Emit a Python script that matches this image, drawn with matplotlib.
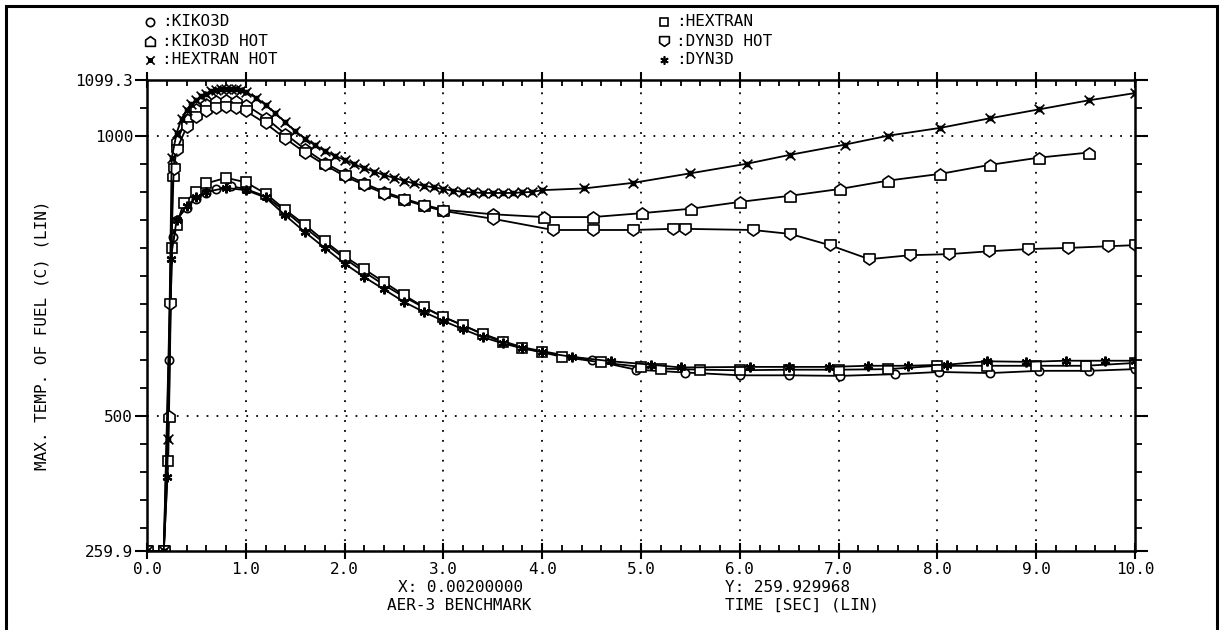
import matplotlib
matplotlib.use("Agg")
import matplotlib.pyplot as plt
from matplotlib.path import Path
from matplotlib.lines import Line2D
from matplotlib.patches import Rectangle
from matplotlib.ticker import MultipleLocator, FixedLocator

plt.rcParams['font.family'] = ['DejaVu Sans Mono']

# Data (time [s], max fuel temperature [C])
t_kiko = [0.0, 0.17, 0.22, 0.26, 0.3, 0.4, 0.5, 0.6, 0.7, 0.85, 1.0, 1.2, 1.4, 1.6, 1.8, 2.0, 2.2,
          2.4, 2.6, 2.8, 3.0, 3.2, 3.4, 3.6, 3.8, 4.0, 4.5, 4.95, 5.45, 6.0, 6.5, 7.01, 7.57, 8.02,
          8.53, 9.03, 9.53, 10.0]
v_kiko = [259.9, 259.9, 600, 820, 850, 872, 888, 898, 905, 910, 905, 892, 865, 836, 808, 781, 757,
          734, 713, 694, 677, 662, 647, 634, 623, 616, 600, 583, 578, 573, 573, 572, 575, 579,
          577, 581, 581, 584]

t_hex = [0.0, 0.17, 0.215, 0.25, 0.3, 0.37, 0.5, 0.6, 0.8, 1.0, 1.2, 1.4, 1.6, 1.8, 2.0, 2.2, 2.4,
         2.6, 2.8, 3.0, 3.2, 3.4, 3.6, 3.8, 4.0, 4.2, 4.6, 5.0, 5.2, 5.6, 6.0, 6.5, 7.0, 7.5, 8.0,
         8.5, 9.0, 9.5, 10.0]
v_hex = [259.9, 259.9, 420, 800, 840, 880, 900, 915, 925, 917, 897, 868, 841, 812, 785, 762, 739,
         716, 695, 677, 662, 646, 632, 622, 614, 606, 596, 588, 585, 583, 582, 583, 583, 584, 590,
         590, 590, 590, 595]

t_dyn = [0.0, 0.17, 0.205, 0.24, 0.3, 0.4, 0.5, 0.6, 0.8, 1.0, 1.2, 1.4, 1.6, 1.8, 2.0, 2.2, 2.4,
         2.6, 2.8, 3.0, 3.2, 3.4, 3.6, 3.8, 4.0, 4.3, 4.7, 5.1, 5.4, 6.1, 6.5, 6.9, 7.3, 7.7, 8.1,
         8.5, 8.9, 9.3, 9.7, 10.0]
v_dyn = [259.9, 259.9, 391, 780, 850, 875, 890, 900, 907, 903, 890, 858, 828, 800, 772, 748, 726,
         704, 686, 670, 655, 641, 630, 621, 614, 606, 598, 592, 587, 588, 588, 588, 590, 590, 592,
         598, 597, 599, 599, 599]

t_kiko_hot = [0.0, 0.17, 0.22, 0.26, 0.3, 0.4, 0.5, 0.6, 0.7, 0.8, 0.9, 1.0, 1.2, 1.4, 1.6, 1.8,
              2.0, 2.2, 2.4, 2.6, 2.8, 3.0, 3.5, 4.02, 4.51, 5.01, 5.51, 6.0, 6.51, 7.01, 7.5,
              8.03, 8.53, 9.03, 9.53]
v_kiko_hot = [259.9, 259.9, 500, 930, 990, 1030, 1048, 1057, 1062, 1063, 1061, 1055, 1032, 1003,
              976, 952, 932, 915, 900, 888, 877, 868, 860, 855, 855, 862, 870, 882, 893, 905, 920,
              932, 948, 961, 970]

t_dyn_hot = [0.0, 0.17, 0.23, 0.27, 0.3, 0.4, 0.5, 0.6, 0.7, 0.8, 0.9, 1.0, 1.2, 1.4, 1.6, 1.8,
             2.0, 2.2, 2.4, 2.6, 2.8, 3.0, 3.5, 4.11, 4.51, 4.92, 5.32, 5.45, 6.13, 6.51, 6.91,
             7.31, 7.72, 8.12, 8.52, 8.92, 9.32, 9.73, 10.0]
v_dyn_hot = [259.9, 259.9, 700, 940, 975, 1015, 1034, 1044, 1050, 1052, 1050, 1044, 1022, 995,
             970, 948, 928, 912, 897, 886, 875, 866, 852, 832, 832, 832, 834, 834, 832, 825, 805,
             780, 787, 789, 794, 798, 800, 803, 805]

t_hex_hot = [0.0, 0.17, 0.21, 0.25, 0.3, 0.35, 0.4, 0.45, 0.5, 0.55, 0.6, 0.65, 0.7, 0.75, 0.8,
             0.85, 0.9, 0.95, 1.0, 1.1, 1.2, 1.3, 1.4, 1.5, 1.6, 1.7, 1.8, 1.9, 2.0, 2.1, 2.2, 2.3,
             2.4, 2.5, 2.6, 2.7, 2.8, 2.9, 3.0, 3.1, 3.2, 3.3, 3.4, 3.5, 3.6, 3.7, 3.8, 3.9, 4.0,
             4.42, 4.92, 5.5, 6.07, 6.51, 7.06, 7.5, 8.03, 8.53, 9.03, 9.53, 10.0]
v_hex_hot = [259.9, 259.9, 460, 960, 1005, 1030, 1045, 1056, 1064, 1070, 1075, 1079, 1081, 1083,
             1084, 1084, 1083, 1081, 1078, 1068, 1055, 1040, 1024, 1008, 995, 983, 973, 964, 957,
             949, 942, 936, 930, 925, 920, 915, 911, 908, 905, 902, 900, 899, 898, 898, 898, 898,
             899, 900, 903, 906, 916, 933, 950, 966, 984, 1000, 1014, 1031, 1047, 1063, 1076]

y_ticks = [259.9, 500, 1000, 1099.3]
y_labels = ['259.9', '500', '1000', '1099.3']
x_ticks = [0, 1, 2, 3, 4, 5, 6, 7, 8, 9, 10]

FS = 11.5

# custom markers
house = Path([(-1, -1), (1, -1), (1, 0.3), (0, 1), (-1, 0.3), (-1, -1)],
             [Path.MOVETO, Path.LINETO, Path.LINETO, Path.LINETO, Path.LINETO, Path.CLOSEPOLY])
shield = Path([(-1, 1), (1, 1), (1, -0.3), (0, -1), (-1, -0.3), (-1, 1)],
              [Path.MOVETO, Path.LINETO, Path.LINETO, Path.LINETO, Path.LINETO, Path.CLOSEPOLY])
xbox = Path([(-0.4, -0.4), (0.4, -0.4), (0.4, 0.4), (-0.4, 0.4), (-0.4, -0.4),
             (-1, -1), (1, 1), (-1, 1), (1, -1)],
            [Path.MOVETO, Path.LINETO, Path.LINETO, Path.LINETO, Path.CLOSEPOLY,
             Path.MOVETO, Path.LINETO, Path.MOVETO, Path.LINETO])

series = [
    (t_kiko, v_kiko, dict(marker='o', ms=6)),
    (t_hex, v_hex, dict(marker='s', ms=7)),
    (t_dyn, v_dyn, dict(marker=(6, 2, 0), ms=7, mew=1.6)),
    (t_kiko_hot, v_kiko_hot, dict(marker=house, ms=8)),
    (t_dyn_hot, v_dyn_hot, dict(marker=shield, ms=8)),
    (t_hex_hot, v_hex_hot, dict(marker=xbox, ms=7)),
]

fig = plt.figure(figsize=(12.24, 6.30), dpi=100)
ax = fig.add_axes([147 / 1224, 1 - 551 / 630, (1135 - 147) / 1224, (551 - 80) / 630])

for t, v, st in series:
    kw = dict(color='black', lw=1.3, mfc='white', mec='black', mew=1.2)
    kw.update(st)
    ax.plot(t, v, **kw)

ax.set_xlim(0, 10)
ax.set_ylim(259.9, 1099.3)

# dotted grid
for gx in x_ticks[1:-1]:
    ax.axvline(gx, color='black', lw=1.3, ls=(0, (1, 4.5)), zorder=0)
for gy in [500, 1000]:
    ax.axhline(gy, color='black', lw=1.3, ls=(0, (1, 4.5)), zorder=0)

ax.xaxis.set_major_locator(FixedLocator(x_ticks))
ax.set_xticklabels(['%.1f' % x for x in x_ticks])
ax.xaxis.set_minor_locator(MultipleLocator(0.2))
ax.set_yticks(y_ticks)
ax.set_yticklabels(y_labels)
ax.yaxis.set_minor_locator(FixedLocator(list(range(300, 1100, 50))))

ax.tick_params(axis='x', which='major', direction='inout', length=12, width=1.5,
               top=True, labelsize=FS, pad=2)
ax.tick_params(axis='x', which='minor', direction='in', length=4, width=1.3, top=True)
ax.tick_params(axis='y', which='major', direction='out', length=9, width=1.5,
               right=True, labelsize=FS, pad=1)
ax.tick_params(axis='y', which='minor', direction='out', length=5, width=1.3, right=True)
for s in ax.spines.values():
    s.set_linewidth(1.8)

fig.text(42 / 1224, 1 - 335 / 630, 'MAX. TEMP. OF FUEL (C) (LIN)', rotation=90,
         ha='center', va='center', fontsize=FS)
fig.text(398 / 1224, 1 - 588 / 630, 'X: 0.00200000', ha='left', va='center', fontsize=FS)
fig.text(387 / 1224, 1 - 605 / 630, 'AER-3 BENCHMARK', ha='left', va='center', fontsize=FS)
fig.text(725 / 1224, 1 - 588 / 630, 'Y: 259.929968', ha='left', va='center', fontsize=FS)
fig.text(725 / 1224, 1 - 605 / 630, 'TIME [SEC] (LIN)', ha='left', va='center', fontsize=FS)

# legend as text rows
legend_rows = [
    (150, 22, 'o', 6, ':KIKO3D'),
    (150, 41, house, 7, ':KIKO3D HOT'),
    (150, 60, xbox, 6, ':HEXTRAN HOT'),
    (664, 22, 's', 6, ':HEXTRAN'),
    (664, 41, shield, 7, ':DYN3D HOT'),
    (664, 60, (6, 2, 0), 6, ':DYN3D'),
]
for px, py, mk, ms, label in legend_rows:
    fig.add_artist(Line2D([px / 1224], [1 - py / 630], marker=mk, ms=ms, mfc='white',
                          mec='black', mew=1.2, transform=fig.transFigure))
    fig.text((px + 12) / 1224, 1 - py / 630, label, ha='left', va='center', fontsize=FS)

# outer frame
fig.add_artist(Rectangle((6 / 1224, -0.02), (1217 - 6) / 1224, 1 - 6 / 630 + 0.02,
                         fill=False, lw=2.2, ec='black', transform=fig.transFigure))

fig.savefig('out.png', dpi=100)
